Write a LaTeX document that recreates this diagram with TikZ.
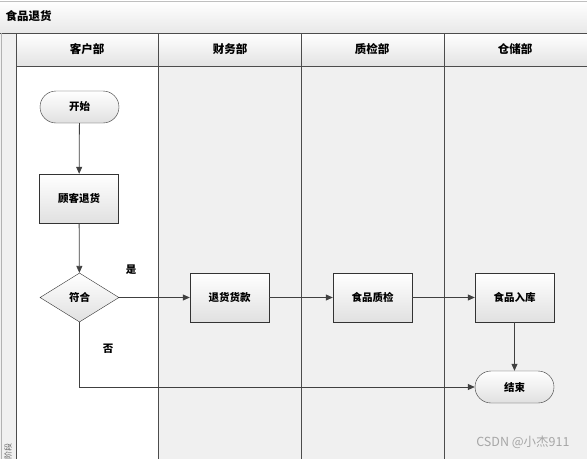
\documentclass[tikz,border=0pt]{standalone}
\usepackage{fontspec}
\newfontfamily\cjk{Noto Sans CJK SC}
\usetikzlibrary{shapes.geometric,shapes.misc,arrows.meta}

\tikzset{
  lbl/.style={font=\cjk\bfseries\fontsize{10.5}{12}\selectfont},
  hdr/.style={font=\cjk\bfseries\fontsize{11.5}{13}\selectfont},
  box/.style={lbl,draw=black!80,top color=white,bottom color=black!12,
    minimum width=79pt,minimum height=49pt,inner sep=0pt},
  term/.style={lbl,rounded rectangle,draw=black!80,top color=white,bottom color=black!12,
    minimum width=79pt,minimum height=32pt,inner sep=0pt},
  dec/.style={lbl,diamond,draw=black!80,top color=white,bottom color=black!12,
    minimum width=79pt,minimum height=49pt,inner sep=0pt},
  arr/.style={draw=black!75,line width=0.8pt,-{Triangle[length=7pt,width=6pt]}},
  lane/.style={draw=black!70,line width=0.9pt}
}

\begin{document}
\begin{tikzpicture}[x=1pt,y=-1pt]
  \useasboundingbox (0,0) rectangle (587,459);
  % background of pool and lanes
  \fill[white] (0,0) rectangle (587,459);
  \shade[top color=white,bottom color=black!9] (0,1) rectangle (587,33);
  \draw[black!25] (0,1)--(587,1);
  \fill[black!6] (0,33) rectangle (16,459);
  \shade[top color=white,bottom color=black!11] (16,33) rectangle (587,66);
  \fill[black!6] (158,66) rectangle (587,459);
  % lane borders
  \draw[lane] (0,33)--(587,33);
  \draw[lane] (16,66)--(587,66);
  \foreach \x in {16,158,301,444}
    \draw[lane] (\x,33)--(\x,459);
  \draw[black!30] (1.5,33)--(1.5,459);
  % titles
  \node[hdr,anchor=west] (pool) at (2,16) {食品退货};
  \node[hdr] (h1) at (87,49) {客户部};
  \node[hdr] (h2) at (230,49) {财务部};
  \node[hdr] (h3) at (372,49) {质检部};
  \node[hdr] (h4) at (515,49) {仓储部};
  \node[font=\cjk\fontsize{8}{9}\selectfont,text=black!60,rotate=90] (phase) at (8,451) {阶段};
  % flow nodes
  \node[term] (start) at (79.5,107) {开始};
  \node[box] (ret) at (79,198.5) {顾客退货};
  \node[dec] (ok) at (79.5,297.5) {符合};
  \node[box] (refund) at (229.5,297.5) {退货货款};
  \node[box] (qc) at (372.5,297.5) {食品质检};
  \node[box] (stock) at (514.5,297.5) {食品入库};
  \node[term] (finish) at (514.5,387) {结束};
  \node[lbl] (yes) at (131,270) {是};
  \node[lbl] (no) at (108,349) {否};
  % connectors
  \draw[arr] (start)--(ret);
  \draw[arr] (ret)--(ok);
  \draw[arr] (ok)--(refund);
  \draw[arr] (refund)--(qc);
  \draw[arr] (qc)--(stock);
  \draw[arr] (stock)--(finish);
  \draw[arr] (ok.south) |- (finish.west);
  % watermark
  \node[font=\cjk\fontsize{12.5}{14}\selectfont,text=black!35,anchor=east] (mark) at (573,442) {CSDN @小杰911};
\end{tikzpicture}
\end{document}
